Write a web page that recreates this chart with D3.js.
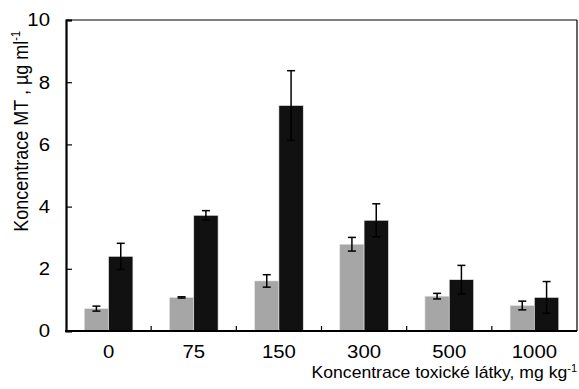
<!DOCTYPE html>
<html>
<head>
<meta charset="utf-8">
<script src="https://cdn.jsdelivr.net/npm/d3@7"></script>
<style>
  body { margin: 0; background: #fff; }
  svg text { font-family: "Liberation Sans", Arial, sans-serif; fill: #000; }
</style>
</head>
<body>
<div id="chart"></div>
<script>
// categories (toxic substance concentration, mg/kg)
const categories = ['0', '75', '150', '300', '500', '1000'];
const seriesNames = ['gray', 'black'];
// MT concentration, µg/ml
const grayValues = [0.72, 1.08, 1.61, 2.79, 1.12, 0.82];
const grayErrors = [0.08, 0.02, 0.20, 0.22, 0.09, 0.14];
const blackValues = [2.40, 3.72, 7.25, 3.56, 1.65, 1.08];
const blackErrors = [0.42, 0.15, 1.12, 0.53, 0.46, 0.51];
const yTicks = [0, 2, 4, 6, 8, 10];

const width = 579, height = 389;
const margin = {top: 20, right: 2, bottom: 58, left: 66};
const innerW = width - margin.left - margin.right;
const innerH = height - margin.top - margin.bottom;
// the original picture is slightly stretched horizontally
const stretch = 1.1;

const svg = d3.select('#chart').append('svg')
    .attr('width', width)
    .attr('height', height);

const g = svg.append('g')
    .attr('transform', `translate(${margin.left},${margin.top})`);

// scales
const xScale = d3.scaleBand()
    .domain(categories)
    .range([0, innerW]);

const xInner = d3.scaleBand()
    .domain(seriesNames)
    .range([0, xScale.bandwidth()])
    .paddingOuter(0.75)
    .paddingInner(0);

const yScale = d3.scaleLinear()
    .domain([0, 10])
    .range([innerH, 0]);

const colors = {gray: '#a6a6a6', black: '#111111'};

const data = categories.map((c, i) => ({
    cat: c,
    bars: [
        {key: 'gray', value: grayValues[i], err: grayErrors[i]},
        {key: 'black', value: blackValues[i], err: blackErrors[i]}
    ]
}));

// bars
const groups = g.selectAll('.group').data(data)
    .join('g')
    .attr('class', 'group')
    .attr('transform', d => `translate(${xScale(d.cat)},0)`);

groups.selectAll('rect').data(d => d.bars)
    .join('rect')
    .attr('x', d => xInner(d.key))
    .attr('y', d => yScale(d.value))
    .attr('width', xInner.bandwidth())
    .attr('height', d => innerH - yScale(d.value))
    .attr('fill', d => colors[d.key])
    .attr('stroke', '#e8e8e8')
    .attr('stroke-width', 0.6);

// error bars
const capW = 4;
const errG = groups.selectAll('.err').data(d => d.bars)
    .join('g')
    .attr('class', 'err')
    .attr('stroke', '#000')
    .attr('stroke-width', 1.5);

const cx = d => xInner(d.key) + xInner.bandwidth() / 2;
errG.append('line')
    .attr('x1', cx).attr('x2', cx)
    .attr('y1', d => yScale(d.value + d.err))
    .attr('y2', d => yScale(d.value - d.err));
errG.append('line')
    .attr('x1', d => cx(d) - capW).attr('x2', d => cx(d) + capW)
    .attr('y1', d => yScale(d.value + d.err))
    .attr('y2', d => yScale(d.value + d.err));
errG.append('line')
    .attr('x1', d => cx(d) - capW).attr('x2', d => cx(d) + capW)
    .attr('y1', d => yScale(d.value - d.err))
    .attr('y2', d => yScale(d.value - d.err));

// frame (top and right)
g.append('line').attr('x1', 0).attr('x2', innerW).attr('y1', 0).attr('y2', 0)
    .attr('stroke', '#000').attr('stroke-width', 1.2);
g.append('line').attr('x1', innerW).attr('x2', innerW).attr('y1', 0).attr('y2', innerH)
    .attr('stroke', '#000').attr('stroke-width', 1.2);

// y axis (labels drawn separately so they can be stretched)
const yAxis = d3.axisLeft(yScale).tickValues(yTicks).tickSize(-6).tickFormat('');
const yAxisG = g.append('g').call(yAxis);
yAxisG.select('.domain').attr('stroke-width', 2.2);
yAxisG.selectAll('.tick line').attr('stroke-width', 1.2);

g.selectAll('.yl').data(yTicks).join('text')
    .attr('class', 'yl')
    .attr('transform', d => `translate(-16,${yScale(d)}) scale(${stretch},1)`)
    .attr('dy', '0.35em')
    .attr('text-anchor', 'end')
    .style('font-size', '18.5px')
    .text(d => d);

// x axis: category boundary ticks pointing inward
const boundaries = categories.slice(1).map(c => xScale(c));
const xAxisG = g.append('g').attr('transform', `translate(0,${innerH})`);
xAxisG.append('line').attr('x1', -1).attr('x2', innerW).attr('y1', 0).attr('y2', 0)
    .attr('stroke', '#000').attr('stroke-width', 2.2);
xAxisG.selectAll('.bt').data(boundaries).join('line')
    .attr('class', 'bt')
    .attr('x1', d => d).attr('x2', d => d)
    .attr('y1', 0).attr('y2', -5)
    .attr('stroke', '#000').attr('stroke-width', 1.2);
xAxisG.selectAll('.xl').data(categories).join('text')
    .attr('class', 'xl')
    .attr('transform', d => `translate(${xScale(d) + xScale.bandwidth() / 2},27) scale(${stretch},1)`)
    .attr('text-anchor', 'middle')
    .style('font-size', '18.5px')
    .text(d => d);

// axis titles
const xTitle = svg.append('text')
    .attr('transform', `translate(577,378) scale(${stretch},1)`)
    .attr('text-anchor', 'end')
    .style('font-size', '16px');
xTitle.append('tspan').text('Koncentrace toxické látky, mg kg');
xTitle.append('tspan').attr('dy', -6).style('font-size', '10px').text('-1');

const yTitle = svg.append('text')
    .attr('transform', `translate(28,31) scale(${stretch},1) rotate(-90)`)
    .attr('text-anchor', 'end')
    .style('font-size', '18px');
yTitle.append('tspan').text('Koncentrace MT , µg ml');
yTitle.append('tspan').attr('dy', -7).style('font-size', '11px').text('-1');
</script>
</body>
</html>
